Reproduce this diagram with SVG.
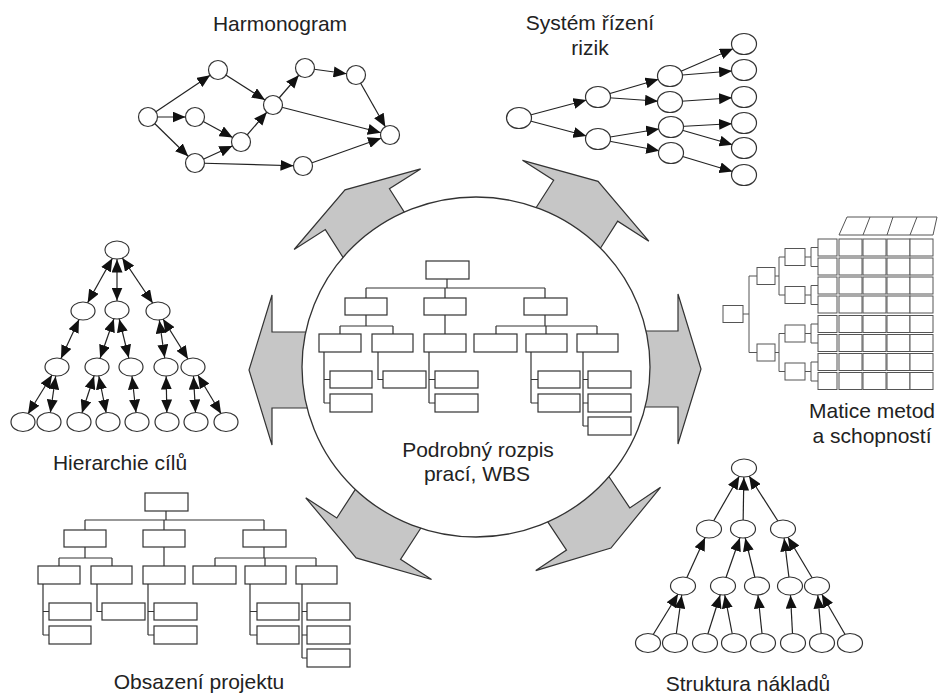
<svg xmlns="http://www.w3.org/2000/svg" width="938" height="696" viewBox="0 0 938 696">
<style>
.t{font-family:"Liberation Sans",Arial,sans-serif;font-size:21px;fill:#222;text-anchor:middle}
.n{fill:#fff;stroke:#333;stroke-width:1.2}
.e{stroke:#222;stroke-width:1.2;fill:none}
.h{marker-end:url(#a95)}
.r{marker-end:url(#a12)}
.d{marker-start:url(#a95);marker-end:url(#a95)}
.b{fill:#fff;stroke:#333;stroke-width:1.2}
.w{stroke:#333;stroke-width:1.2;fill:none}
.m{fill:#fff;stroke:#555;stroke-width:1}
.ga{fill:#c6c6c6;stroke:#333;stroke-width:1.2}
</style>
<defs>
<marker id="a95" viewBox="0 0 23 11" refX="22.5" refY="5.5" markerWidth="23" markerHeight="11" markerUnits="userSpaceOnUse" orient="auto-start-reverse"><path d="M0,0L13,5.5L0,11z" fill="#111"/></marker>
<marker id="a12" viewBox="0 0 25 11" refX="25" refY="5.5" markerWidth="25" markerHeight="11" markerUnits="userSpaceOnUse" orient="auto"><path d="M0,0L13,5.5L0,11z" fill="#111"/></marker>
<polygon id="garrow" class="ga" points="-8,-38 30,-38 30,-75 53,0 30,75 30,38 -8,38"/>
<g id="wbs">
<path class="w" d="M447,279V288M366,288H545M366,288V298M445,288V298M545,288V298M366,315V326M340,326H393M340,326V334M393,326V334M445,315V334M545,315V326M496,326H597M496,326V334M546,326V334M597,326V334M324,352V403M324,379.5H330M324,403H330M378,352V379.5H383M429,352V403M429,379.5H435M429,403H435M531,352V403M531,379.5H538M531,403H538M583,352V426M583,379.5H588M583,403H588M583,426H588"/>
<rect class="b" x="426" y="261" width="43" height="18"/>
<rect class="b" x="345" y="298" width="42" height="17"/>
<rect class="b" x="424" y="298" width="42" height="17"/>
<rect class="b" x="524" y="298" width="43" height="17"/>
<rect class="b" x="319" y="334" width="42" height="18"/>
<rect class="b" x="372" y="334" width="41" height="18"/>
<rect class="b" x="424" y="334" width="42" height="18"/>
<rect class="b" x="474" y="334" width="43" height="18"/>
<rect class="b" x="526" y="334" width="41" height="18"/>
<rect class="b" x="577" y="334" width="41" height="18"/>
<rect class="b" x="330" y="371" width="42" height="17"/>
<rect class="b" x="330" y="394" width="42" height="18"/>
<rect class="b" x="383" y="371" width="43" height="17"/>
<rect class="b" x="435" y="371" width="43" height="17"/>
<rect class="b" x="435" y="394" width="43" height="18"/>
<rect class="b" x="538" y="371" width="42" height="17"/>
<rect class="b" x="538" y="394" width="42" height="18"/>
<rect class="b" x="588" y="371" width="43" height="17"/>
<rect class="b" x="588" y="394" width="43" height="18"/>
<rect class="b" x="588" y="417" width="43" height="18"/>
</g>
</defs>

<!-- Harmonogram -->
<g id="harmonogram">
<g id="harmonogram-connectors">
<line class="e h" x1="148" y1="117" x2="218" y2="70"/>
<line class="e h" x1="148" y1="117" x2="195" y2="117"/>
<line class="e h" x1="148" y1="117" x2="195" y2="163"/>
<line class="e h" x1="218" y1="70" x2="273" y2="105"/>
<line class="e h" x1="195" y1="117" x2="241" y2="142"/>
<line class="e h" x1="195" y1="163" x2="241" y2="142"/>
<line class="e h" x1="241" y1="142" x2="273" y2="105"/>
<line class="e h" x1="273" y1="105" x2="305" y2="68"/>
<line class="e h" x1="305" y1="68" x2="356" y2="75"/>
<line class="e h" x1="356" y1="75" x2="390" y2="135"/>
<line class="e h" x1="273" y1="105" x2="390" y2="135"/>
<line class="e h" x1="303" y1="166" x2="390" y2="135"/>
<line class="e h" x1="195" y1="163" x2="303" y2="166"/>
</g>
<g id="harmonogram-nodes">
<circle class="n" cx="148" cy="117" r="9.5"/>
<circle class="n" cx="218" cy="70" r="9.5"/>
<circle class="n" cx="195" cy="117" r="9.5"/>
<circle class="n" cx="195" cy="163" r="9.5"/>
<circle class="n" cx="241" cy="142" r="9.5"/>
<circle class="n" cx="273" cy="105" r="9.5"/>
<circle class="n" cx="305" cy="68" r="9.5"/>
<circle class="n" cx="356" cy="75" r="9.5"/>
<circle class="n" cx="390" cy="135" r="9.5"/>
<circle class="n" cx="303" cy="166" r="9.5"/>
</g>
<text class="t" x="280" y="31">Harmonogram</text>
</g>

<!-- Risk -->
<g id="rizika">
<g id="rizika-connectors">
<line class="e r" x1="519" y1="118" x2="598" y2="97"/>
<line class="e r" x1="519" y1="118" x2="598" y2="139"/>
<line class="e r" x1="598" y1="97" x2="670" y2="76"/>
<line class="e r" x1="598" y1="97" x2="670" y2="102"/>
<line class="e r" x1="598" y1="139" x2="671" y2="127"/>
<line class="e r" x1="598" y1="139" x2="671" y2="153"/>
<line class="e r" x1="670" y1="76" x2="744" y2="44"/>
<line class="e r" x1="670" y1="76" x2="744" y2="70"/>
<line class="e r" x1="670" y1="102" x2="744" y2="97"/>
<line class="e r" x1="671" y1="127" x2="744" y2="123"/>
<line class="e r" x1="671" y1="127" x2="744" y2="148"/>
<line class="e r" x1="671" y1="153" x2="744" y2="175"/>
</g>
<g id="rizika-nodes">
<ellipse class="n" cx="519" cy="118" rx="12.5" ry="10.5"/>
<ellipse class="n" cx="598" cy="97" rx="12.5" ry="10.5"/>
<ellipse class="n" cx="598" cy="139" rx="12.5" ry="10.5"/>
<ellipse class="n" cx="670" cy="76" rx="12.5" ry="10.5"/>
<ellipse class="n" cx="670" cy="102" rx="12.5" ry="10.5"/>
<ellipse class="n" cx="671" cy="127" rx="12.5" ry="10.5"/>
<ellipse class="n" cx="671" cy="153" rx="12.5" ry="10.5"/>
<ellipse class="n" cx="744" cy="44" rx="12.5" ry="10.5"/>
<ellipse class="n" cx="744" cy="70" rx="12.5" ry="10.5"/>
<ellipse class="n" cx="744" cy="97" rx="12.5" ry="10.5"/>
<ellipse class="n" cx="744" cy="123" rx="12.5" ry="10.5"/>
<ellipse class="n" cx="744" cy="148" rx="12.5" ry="10.5"/>
<ellipse class="n" cx="744" cy="175" rx="12.5" ry="10.5"/>
</g>
<text class="t" x="590" y="30">Systém řízení</text>
<text class="t" x="590" y="55">rizik</text>
</g>

<!-- Hierarchie cilu -->
<g id="hierarchie">
<g id="hierarchie-connectors">
<line class="e d" x1="117" y1="250" x2="83" y2="311"/>
<line class="e d" x1="117" y1="250" x2="117" y2="310"/>
<line class="e d" x1="117" y1="250" x2="158" y2="311"/>
<line class="e d" x1="83" y1="311" x2="57" y2="367"/>
<line class="e d" x1="117" y1="310" x2="97" y2="367"/>
<line class="e d" x1="117" y1="310" x2="131" y2="367"/>
<line class="e d" x1="158" y1="311" x2="166" y2="367"/>
<line class="e d" x1="158" y1="311" x2="193" y2="367"/>
<line class="e d" x1="57" y1="367" x2="23" y2="422"/>
<line class="e d" x1="57" y1="367" x2="49" y2="422"/>
<line class="e d" x1="97" y1="367" x2="79" y2="422"/>
<line class="e d" x1="97" y1="367" x2="108" y2="422"/>
<line class="e d" x1="131" y1="367" x2="137" y2="422"/>
<line class="e d" x1="166" y1="367" x2="167" y2="422"/>
<line class="e d" x1="193" y1="367" x2="196" y2="422"/>
<line class="e d" x1="193" y1="367" x2="226" y2="422"/>
</g>
<g id="hierarchie-nodes">
<ellipse class="n" cx="117" cy="250" rx="12" ry="9"/>
<ellipse class="n" cx="83" cy="311" rx="12" ry="9"/>
<ellipse class="n" cx="117" cy="310" rx="12" ry="9"/>
<ellipse class="n" cx="158" cy="311" rx="12" ry="9"/>
<ellipse class="n" cx="57" cy="367" rx="12" ry="9"/>
<ellipse class="n" cx="97" cy="367" rx="12" ry="9"/>
<ellipse class="n" cx="131" cy="367" rx="12" ry="9"/>
<ellipse class="n" cx="166" cy="367" rx="12" ry="9"/>
<ellipse class="n" cx="193" cy="367" rx="12" ry="9"/>
<ellipse class="n" cx="23" cy="422" rx="12" ry="9.5"/>
<ellipse class="n" cx="49" cy="422" rx="12" ry="9.5"/>
<ellipse class="n" cx="79" cy="422" rx="12" ry="9.5"/>
<ellipse class="n" cx="108" cy="422" rx="12" ry="9.5"/>
<ellipse class="n" cx="137" cy="422" rx="12" ry="9.5"/>
<ellipse class="n" cx="167" cy="422" rx="12" ry="9.5"/>
<ellipse class="n" cx="196" cy="422" rx="12" ry="9.5"/>
<ellipse class="n" cx="226" cy="422" rx="12" ry="9.5"/>
</g>
<text class="t" x="120" y="470">Hierarchie cílů</text>
</g>

<!-- Matice -->
<g id="matice">
<path class="w" style="stroke:#555;stroke-width:1" d="M743,314H749M749,276V352.5M749,276H757M749,352.5H757M775,276H779M779,257V295M779,257H785M779,295H785M775,352.5H779M779,333.5V371.5M779,333.5H785M779,371.5H785M805,257H811M811,247.5V266.5M811,247.5H818M811,266.5H818M805,295H811M811,285.5V304.5M811,285.5H818M811,304.5H818M805,333.5H811M811,324V343M811,324H818M811,343H818M805,371.5H811M811,362V381M811,362H818M811,381H818M839,235H933M847,217H937M839,235L847,217M863,235L870,217M887,235L893,217M910,235L917,217M933,235L937,217"/>
<rect class="m" x="723" y="305.5" width="20" height="17"/>
<rect class="m" x="757" y="267.5" width="18" height="17"/>
<rect class="m" x="757" y="344" width="18" height="17"/>
<rect class="m" x="785" y="248.5" width="20" height="17"/>
<rect class="m" x="785" y="286.5" width="20" height="17"/>
<rect class="m" x="785" y="325" width="20" height="17"/>
<rect class="m" x="785" y="363" width="20" height="17"/>
<g id="matice-rows">
<g><rect class="m" x="818" y="239" width="19" height="17"/><rect class="m" x="839" y="239" width="23" height="17"/><rect class="m" x="863" y="239" width="23" height="17"/><rect class="m" x="887" y="239" width="23" height="17"/><rect class="m" x="910" y="239" width="23" height="17"/></g>
<g><rect class="m" x="818" y="258" width="19" height="17"/><rect class="m" x="839" y="258" width="23" height="17"/><rect class="m" x="863" y="258" width="23" height="17"/><rect class="m" x="887" y="258" width="23" height="17"/><rect class="m" x="910" y="258" width="23" height="17"/></g>
<g><rect class="m" x="818" y="277" width="19" height="17"/><rect class="m" x="839" y="277" width="23" height="17"/><rect class="m" x="863" y="277" width="23" height="17"/><rect class="m" x="887" y="277" width="23" height="17"/><rect class="m" x="910" y="277" width="23" height="17"/></g>
<g><rect class="m" x="818" y="296" width="19" height="17"/><rect class="m" x="839" y="296" width="23" height="17"/><rect class="m" x="863" y="296" width="23" height="17"/><rect class="m" x="887" y="296" width="23" height="17"/><rect class="m" x="910" y="296" width="23" height="17"/></g>
<g><rect class="m" x="818" y="315.5" width="19" height="17"/><rect class="m" x="839" y="315.5" width="23" height="17"/><rect class="m" x="863" y="315.5" width="23" height="17"/><rect class="m" x="887" y="315.5" width="23" height="17"/><rect class="m" x="910" y="315.5" width="23" height="17"/></g>
<g><rect class="m" x="818" y="334.5" width="19" height="17"/><rect class="m" x="839" y="334.5" width="23" height="17"/><rect class="m" x="863" y="334.5" width="23" height="17"/><rect class="m" x="887" y="334.5" width="23" height="17"/><rect class="m" x="910" y="334.5" width="23" height="17"/></g>
<g><rect class="m" x="818" y="353.5" width="19" height="17"/><rect class="m" x="839" y="353.5" width="23" height="17"/><rect class="m" x="863" y="353.5" width="23" height="17"/><rect class="m" x="887" y="353.5" width="23" height="17"/><rect class="m" x="910" y="353.5" width="23" height="17"/></g>
<g><rect class="m" x="818" y="372.5" width="19" height="17"/><rect class="m" x="839" y="372.5" width="23" height="17"/><rect class="m" x="863" y="372.5" width="23" height="17"/><rect class="m" x="887" y="372.5" width="23" height="17"/><rect class="m" x="910" y="372.5" width="23" height="17"/></g>
</g>
<text class="t" x="872" y="418">Matice metod</text>
<text class="t" x="872" y="443">a schopností</text>
</g>

<!-- Struktura nakladu -->
<g id="naklady">
<g id="naklady-connectors">
<line class="e h" x1="709" y1="529" x2="744" y2="468"/>
<line class="e h" x1="743" y1="529" x2="744" y2="468"/>
<line class="e h" x1="783" y1="529" x2="744" y2="468"/>
<line class="e h" x1="683" y1="586" x2="709" y2="529"/>
<line class="e h" x1="723" y1="586" x2="743" y2="529"/>
<line class="e h" x1="757" y1="586" x2="743" y2="529"/>
<line class="e h" x1="790" y1="586" x2="783" y2="529"/>
<line class="e h" x1="817" y1="586" x2="783" y2="529"/>
<line class="e h" x1="648" y1="643" x2="683" y2="586"/>
<line class="e h" x1="675" y1="643" x2="683" y2="586"/>
<line class="e h" x1="705" y1="643" x2="723" y2="586"/>
<line class="e h" x1="734" y1="643" x2="723" y2="586"/>
<line class="e h" x1="763" y1="643" x2="757" y2="586"/>
<line class="e h" x1="793" y1="643" x2="790" y2="586"/>
<line class="e h" x1="822" y1="643" x2="817" y2="586"/>
<line class="e h" x1="850" y1="643" x2="817" y2="586"/>
</g>
<g id="naklady-nodes">
<ellipse class="n" cx="744" cy="468" rx="12.5" ry="9"/>
<ellipse class="n" cx="709" cy="529" rx="12.5" ry="9"/>
<ellipse class="n" cx="743" cy="529" rx="12.5" ry="9"/>
<ellipse class="n" cx="783" cy="529" rx="12.5" ry="9"/>
<ellipse class="n" cx="683" cy="586" rx="12.5" ry="9"/>
<ellipse class="n" cx="723" cy="586" rx="12.5" ry="9"/>
<ellipse class="n" cx="757" cy="586" rx="12.5" ry="9"/>
<ellipse class="n" cx="790" cy="586" rx="12.5" ry="9"/>
<ellipse class="n" cx="817" cy="586" rx="12.5" ry="9"/>
<ellipse class="n" cx="648" cy="643" rx="12.5" ry="9.5"/>
<ellipse class="n" cx="675" cy="643" rx="12.5" ry="9.5"/>
<ellipse class="n" cx="705" cy="643" rx="12.5" ry="9.5"/>
<ellipse class="n" cx="734" cy="643" rx="12.5" ry="9.5"/>
<ellipse class="n" cx="763" cy="643" rx="12.5" ry="9.5"/>
<ellipse class="n" cx="793" cy="643" rx="12.5" ry="9.5"/>
<ellipse class="n" cx="822" cy="643" rx="12.5" ry="9.5"/>
<ellipse class="n" cx="850" cy="643" rx="12.5" ry="9.5"/>
</g>
<text class="t" x="748" y="691">Struktura nákladů</text>
</g>

<!-- Obsazeni projektu -->
<g id="obsazeni">
<use href="#wbs" transform="translate(-281,232)"/>
<text class="t" x="199" y="689">Obsazení projektu</text>
</g>

<!-- Gray arrows -->
<g id="arrows">
<use href="#garrow" transform="translate(302,370) rotate(180)"/>
<use href="#garrow" transform="translate(648,369)"/>
<use href="#garrow" transform="translate(373.5,234.5) rotate(-122.5)"/>
<use href="#garrow" transform="translate(569.5,226) rotate(-57.4)"/>
<use href="#garrow" transform="translate(385,513.5) rotate(123)"/>
<use href="#garrow" transform="translate(581.5,504) rotate(56.3)"/>
</g>

<!-- Center WBS -->
<g id="wbs-center">
<ellipse cx="476" cy="367" rx="174" ry="170" fill="#fff" stroke="#333" stroke-width="1.3"/>
<use href="#wbs"/>
<text class="t" x="478" y="457">Podrobný rozpis</text>
<text class="t" x="477" y="481">prací, WBS</text>
</g>
</svg>
